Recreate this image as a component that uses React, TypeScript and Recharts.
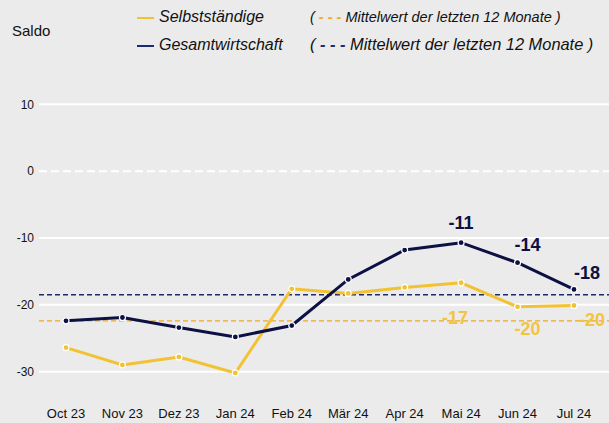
import React from "react";
import { LineChart, Line, XAxis, YAxis, ReferenceLine, LabelList } from "recharts";

const months = ["Oct 23", "Nov 23", "Dez 23", "Jan 24", "Feb 24", "Mär 24", "Apr 24", "Mai 24", "Jun 24", "Jul 24"];
const selbststaendige = [-26.4, -29.0, -27.8, -30.2, -17.6, -18.3, -17.4, -16.7, -20.3, -20.1];
const gesamtwirtschaft = [-22.4, -21.9, -23.4, -24.8, -23.1, -16.2, -11.8, -10.7, -13.7, -17.7];
const meanSelbst = -22.4;
const meanGesamt = -18.5;
const yTicks = [10, 0, -10, -20, -30];
const labeledFrom = 7; // label last three months

const data = months.map((m, i) => ({ month: m, selbst: selbststaendige[i], gesamt: gesamtwirtschaft[i] }));

const NAVY = "#0c1042";
const NAVY_DASH = "#1c2c70";
const YELLOW = "#f2c232";
const YELLOW_DASH = "#f0a820";
const YELLOW_LABEL = "#f2c440";
const BG = "#ebebeb";
const FONT = "'Liberation Sans', Arial, Helvetica, sans-serif";

const navyOffsets: Record<number, [number, number]> = { 7: [0, -20], 8: [10, -18], 9: [13, -16] };
const yellowOffsets: Record<number, [number, number]> = { 7: [-6, 35], 8: [10, 22], 9: [18, 15] };

const makeLabel = (offsets: Record<number, [number, number]>, color: string) => (props: any) => {
  const { x, y, value, index } = props;
  if (index < labeledFrom) return null;
  const [dx, dy] = offsets[index] || [0, 0];
  return (
    <text x={x + dx} y={y + dy} textAnchor="middle" dominantBaseline="central" fill={color}
      style={{ fontFamily: FONT, fontSize: 18, fontWeight: 700 }}>
      {Math.round(value)}
    </text>
  );
};

const dot = (fill: string) => (props: any) => {
  const { cx, cy, index } = props;
  return <circle key={index} cx={cx} cy={cy} r={3} fill={fill} stroke="#ffffff" strokeWidth={1.2} />;
};

export default function App() {
  return (
    <div style={{ position: "fixed", left: 0, top: 0, width: 609, height: 423, background: BG, fontFamily: FONT }}>
      <div style={{ position: "absolute", left: 12, top: 22, fontSize: 15, color: "#111" }}>Saldo</div>
      <div style={{ position: "absolute", left: 137, top: 17, width: 17, height: 2, background: YELLOW }} />
      <div style={{ position: "absolute", left: 159, top: 8, fontSize: 16, fontStyle: "italic", color: "#111" }}>Selbstständige</div>
      <div style={{ position: "absolute", left: 137, top: 45, width: 17, height: 2, background: NAVY_DASH }} />
      <div style={{ position: "absolute", left: 159, top: 36, fontSize: 16, fontStyle: "italic", color: "#111" }}>Gesamtwirtschaft</div>
      <div style={{ position: "absolute", left: 310, top: 9, fontSize: 14.5, fontStyle: "italic", color: "#111", whiteSpace: "nowrap" }}>
        ( <span style={{ color: YELLOW_DASH, fontWeight: 700 }}>- - -</span> Mittelwert der letzten 12 Monate )
      </div>
      <div style={{ position: "absolute", left: 310, top: 35, fontSize: 16.4, fontStyle: "italic", color: "#111", whiteSpace: "nowrap" }}>
        ( <span style={{ color: NAVY_DASH, fontWeight: 700 }}>- - -</span> Mittelwert der letzten 12 Monate )
      </div>
      <div style={{ position: "absolute", left: 0, top: 0 }}>
        <LineChart width={609} height={423} data={data} margin={{ top: 91, right: 0, left: 0, bottom: 0 }}>
          <XAxis dataKey="month" axisLine={false} tickLine={false} tickSize={0} tickMargin={24} height={38}
            padding={{ left: 27, right: 35 }} interval={0}
            tick={{ fill: "#111", fontSize: 13, fontFamily: FONT }} />
          <YAxis domain={[-32, 12]} ticks={yTicks} width={39} axisLine={false} tickLine={false} tickSize={0} tickMargin={5}
            tick={{ fill: "#111", fontSize: 12, fontFamily: FONT }} />
          {yTicks.map((t) => (
            <ReferenceLine key={t} y={t} stroke="#ffffff" strokeWidth={2} strokeDasharray={t === 0 ? "8 4" : undefined} />
          ))}
          <ReferenceLine y={meanGesamt} stroke={NAVY_DASH} strokeWidth={1.4} strokeDasharray="5 3" />
          <ReferenceLine y={meanSelbst} stroke={YELLOW_DASH} strokeWidth={1.4} strokeDasharray="5 3" />
          <Line type="linear" dataKey="selbst" stroke={YELLOW} strokeWidth={3} dot={dot(YELLOW)} isAnimationActive={false}>
            <LabelList dataKey="selbst" content={makeLabel(yellowOffsets, YELLOW_LABEL)} />
          </Line>
          <Line type="linear" dataKey="gesamt" stroke={NAVY} strokeWidth={3} dot={dot(NAVY)} isAnimationActive={false}>
            <LabelList dataKey="gesamt" content={makeLabel(navyOffsets, NAVY)} />
          </Line>
        </LineChart>
      </div>
    </div>
  );
}
